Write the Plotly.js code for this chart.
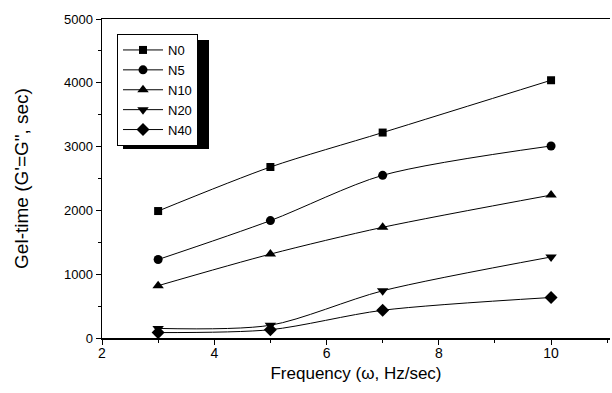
<!DOCTYPE html>
<html>
<head>
<meta charset="utf-8">
<script src="https://cdn.plot.ly/plotly-3.0.1.min.js"></script>
<style>html,body{margin:0;padding:0;background:#fff;}#chart{width:612px;height:393px;}</style>
</head>
<body>
<div id="chart"></div>
<script>
const frequency = [3, 5, 7, 10];
const seriesNames = ["N0", "N5", "N10", "N20", "N40"];
const N0 = [1990, 2680, 3220, 4040];
const N5 = [1230, 1840, 2550, 3010];
const N10 = [820, 1315, 1735, 2240];
const N20 = [150, 200, 740, 1270];
const N40 = [85, 130, 435, 635];
const xTicks = [2, 4, 6, 8, 10];
const yTicks = [0, 1000, 2000, 3000, 4000, 5000];

const seriesValues = [N0, N5, N10, N20, N40];
const symbols = ["square", "circle", "triangle-up", "triangle-down", "diamond"];
const sizes = [8, 9, 10, 10, 10];

const traces = seriesNames.map((name, i) => ({
  type: "scatter",
  mode: "lines+markers",
  name: name,
  x: frequency,
  y: seriesValues[i],
  line: {color: "#000", width: 1, shape: "spline", smoothing: 0.8},
  marker: {symbol: symbols[i], size: sizes[i], color: "#000"}
}));

const W = 612, H = 393;
const M = {l: 102, r: 2, t: 19, b: 55};
const pw = W - M.l - M.r, ph = H - M.t - M.b;
const px2x = p => (p - M.l) / pw;
const py2y = p => (H - M.b - p) / ph;

const font = "Arial, 'Liberation Sans', sans-serif";

const layout = {
  width: W, height: H,
  margin: M,
  paper_bgcolor: "#fff", plot_bgcolor: "#fff",
  showlegend: true,
  font: {family: font, color: "#000", size: 13},
  xaxis: {
    range: [2, 11.05],
    tickvals: xTicks,
    ticks: "outside", ticklen: 5, tickwidth: 1, tickcolor: "#000",
    minor: {dtick: 1, tick0: 1, ticks: "outside", ticklen: 3, tickcolor: "#000", tickwidth: 1},
    showline: true, linecolor: "#000", linewidth: 1.5, mirror: true,
    showgrid: false, zeroline: false,
    tickfont: {size: 14, family: font},
    ticklabelstandoff: -3,
    title: {text: "Frequency (\u03c9, Hz/sec)", font: {size: 17, family: font}, standoff: 7}
  },
  yaxis: {
    range: [0, 5000],
    tickvals: yTicks,
    ticks: "outside", ticklen: 5, tickwidth: 1, tickcolor: "#000",
    minor: {dtick: 500, ticks: "outside", ticklen: 3, tickcolor: "#000", tickwidth: 1},
    showline: true, linecolor: "#000", linewidth: 1.5, mirror: false,
    showgrid: false, zeroline: false,
    tickfont: {size: 13, family: font},
    title: {text: "Gel-time (G'=G\", sec)", font: {size: 19, family: font}, standoff: 30}
  },
  legend: {
    x: px2x(117), y: py2y(34), xanchor: "left", yanchor: "top",
    bgcolor: "#fff", bordercolor: "#000", borderwidth: 1,
    font: {size: 13, family: font},
    itemwidth: 40, tracegroupgap: 0
  },
  shapes: [{
    type: "rect", xref: "paper", yref: "paper", layer: "below",
    x0: px2x(123), x1: px2x(209), y0: py2y(40), y1: py2y(149),
    fillcolor: "#000", line: {width: 0}
  }]
};

Plotly.newPlot("chart", traces, layout, {displayModeBar: false, staticPlot: true});
</script>
</body>
</html>
